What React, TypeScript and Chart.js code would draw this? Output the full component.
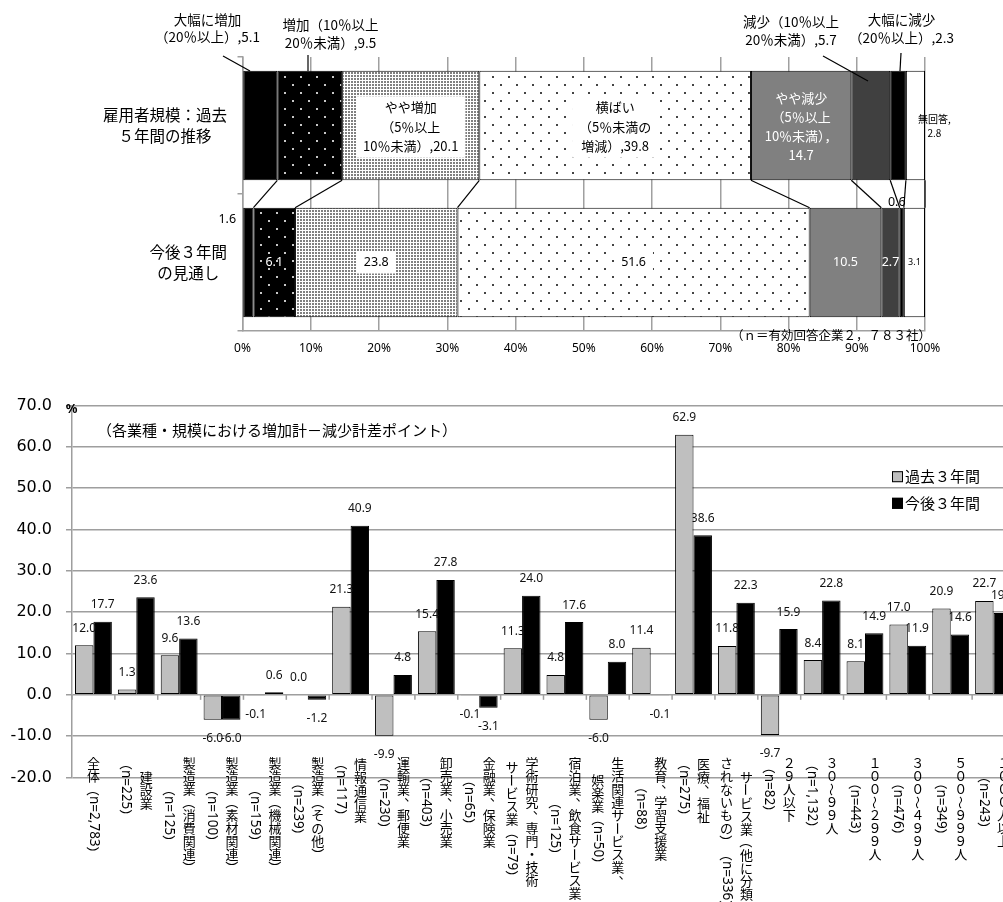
import React, { useEffect, useRef } from 'react';
import { Chart, registerables } from 'chart.js';

Chart.register(...registerables);

const JP = '"Noto Sans CJK JP", "Noto Sans", sans-serif';
const LAT = '"Noto Sans", "DejaVu Sans", sans-serif';
const NUM = '"DejaVu Sans", sans-serif';

// ---------------- upper chart data ----------------
const TOP_CATEGORIES = ['雇用者規模：過去５年間の推移', '今後３年間の見通し'];
const TOP_CATEGORY_LINES = [
  ['雇用者規模：過去', '５年間の推移'],
  ['今後３年間', 'の見通し'],
];
const TOP_SERIES = [
  '大幅に増加（20％以上）',
  '増加（10％以上20％未満）',
  'やや増加（5％以上10％未満）',
  '横ばい（5％未満の増減）',
  'やや減少（5％以上10％未満）',
  '減少（10％以上20％未満）',
  '大幅に減少（20％以上）',
  '無回答',
];
const TOP_PAST = [5.1, 9.5, 20.1, 39.8, 14.7, 5.7, 2.3, 2.8];
const TOP_FUTURE = [1.6, 6.1, 23.8, 51.6, 10.5, 2.7, 0.6, 3.1];
const TOP_PAST_LABELS = [
  ['大幅に増加', '（20％以上）,{v}'],
  ['増加（10％以上', '20％未満）,{v}'],
  ['やや増加', '（5％以上', '10％未満）,{v}'],
  ['横ばい', '（5％未満の', '増減）,{v}'],
  ['やや減少', '（5％以上', '10％未満），', '{v}'],
  ['減少（10％以上', '20％未満）,{v}'],
  ['大幅に減少', '（20％以上）,{v}'],
  ['無回答,', '{v}'],
];
const TOP_NOTE = '（ｎ＝有効回答企業２，７８３社）';

// ---------------- lower chart data ----------------
const BOTTOM_CATEGORIES = [
  ['全体（n=2,783）'],
  ['建設業', '（n=225）'],
  ['製造業（消費関連）', '（n=125）'],
  ['製造業（素材関連）', '（n=100）'],
  ['製造業（機械関連）', '（n=159）'],
  ['製造業（その他）', '（n=239）'],
  ['情報通信業', '（n=117）'],
  ['運輸業、郵便業', '（n=230）'],
  ['卸売業、小売業', '（n=403）'],
  ['金融業、保険業', '（n=65）'],
  ['学術研究、専門・技術', 'サービス業（n=79）'],
  ['宿泊業、飲食サービス業', '（n=125）'],
  ['生活関連サービス業、', '娯楽業（n=50）'],
  ['教育、学習支援業', '（n=88）'],
  ['医療、福祉', '（n=275）'],
  ['サービス業（他に分類', 'されないもの）（n=336）'],
  ['２９人以下', '（n=82）'],
  ['３０～９９人', '（n=1,132）'],
  ['１００～２９９人', '（n=443）'],
  ['３００～４９９人', '（n=476）'],
  ['５００～９９９人', '（n=349）'],
  ['１０００人以上', '（n=243）'],
];
const BOTTOM_SERIES = ['過去３年間', '今後３年間'];
const BOTTOM_PAST = [12.0, 1.3, 9.6, -6.0, -0.1, 0.0, 21.3, -9.9, 15.4, -0.1, 11.3, 4.8, -6.0, 11.4, 62.9, 11.8, -9.7, 8.4, 8.1, 17.0, 20.9, 22.7];
const BOTTOM_FUTURE = [17.7, 23.6, 13.6, -6.0, 0.6, -1.2, 40.9, 4.8, 27.8, -3.1, 24.0, 17.6, 8.0, -0.1, 38.6, 22.3, 15.9, 22.8, 14.9, 11.9, 14.6, 19.8];
const BOTTOM_TITLE = '（各業種・規模における増加計－減少計差ポイント）';
const BOTTOM_UNIT = '%';

// ---------------- helpers ----------------
function makePattern(ctx: any, w: number, h: number, bg: string, fg: string, pts: number[][], s: number) {
  const c = document.createElement('canvas');
  c.width = w;
  c.height = h;
  const g = c.getContext('2d') as CanvasRenderingContext2D;
  g.fillStyle = bg;
  g.fillRect(0, 0, w, h);
  g.fillStyle = fg;
  pts.forEach(([x, y]) => g.fillRect(x, y, s, s));
  return ctx.createPattern(c, 'repeat');
}

function drawBlock(ctx: any, lines: string[], cx: number, cy: number, lh: number, font: string, color: string, box?: { px: number; py: number }) {
  ctx.save();
  ctx.font = font;
  ctx.textAlign = 'center';
  ctx.textBaseline = 'middle';
  const n = lines.length;
  if (box) {
    const w = Math.max(...lines.map((l) => ctx.measureText(l).width)) + box.px * 2;
    const h = n * lh + box.py * 2;
    ctx.fillStyle = '#fff';
    ctx.fillRect(cx - w / 2, cy - h / 2, w, h);
  }
  ctx.fillStyle = color;
  lines.forEach((l, i) => ctx.fillText(l, cx, cy + (i - (n - 1) / 2) * lh));
  ctx.restore();
}

const ROT = new Set(['（', '）', 'ー', '～', '－', '〜']);
const RUN_FONT = `13.5px ${LAT}`;

function vTokens(s: string) {
  const toks: { run: boolean; s: string }[] = [];
  let i = 0;
  while (i < s.length) {
    if (s.charCodeAt(i) < 0x80) {
      let j = i;
      while (j < s.length && s.charCodeAt(j) < 0x80) j++;
      toks.push({ run: true, s: s.slice(i, j) });
      i = j;
    } else {
      toks.push({ run: false, s: s[i] });
      i++;
    }
  }
  return toks;
}

function runWidth(ctx: any, s: string) {
  const f = ctx.font;
  ctx.font = RUN_FONT;
  const w = ctx.measureText(s).width;
  ctx.font = f;
  return w;
}

function vLength(ctx: any, s: string, fs: number) {
  return vTokens(s).reduce((a, t) => a + (t.run ? runWidth(ctx, t.s) : fs), 0);
}

function drawVertical(ctx: any, s: string, cx: number, top: number, fs: number) {
  let y = top;
  for (const t of vTokens(s)) {
    if (t.run) {
      const w = runWidth(ctx, t.s);
      ctx.save();
      ctx.font = RUN_FONT;
      ctx.translate(cx, y);
      ctx.rotate(Math.PI / 2);
      ctx.textAlign = 'left';
      ctx.textBaseline = 'middle';
      ctx.fillText(t.s, 0, 0);
      ctx.restore();
      y += w;
    } else if (ROT.has(t.s)) {
      ctx.save();
      ctx.translate(cx, y + fs / 2);
      ctx.rotate(Math.PI / 2);
      ctx.textAlign = 'center';
      ctx.textBaseline = 'middle';
      ctx.fillText(t.s, 0, 0);
      ctx.restore();
      y += fs;
    } else if (t.s === '、' || t.s === '。') {
      ctx.textAlign = 'center';
      ctx.textBaseline = 'middle';
      ctx.fillText(t.s, cx + fs * 0.55, y + fs / 2 - fs * 0.55);
      y += fs;
    } else {
      ctx.textAlign = 'center';
      ctx.textBaseline = 'middle';
      ctx.fillText(t.s, cx, y + fs / 2);
      y += fs;
    }
  }
}

// ---------------- plugins ----------------
const topPlugin = {
  id: 'topDecor',
  afterDatasetsDraw(chart: any) {
    const ctx = chart.ctx;
    const metas = TOP_SERIES.map((_, k) => chart.getDatasetMeta(k));
    // series lines between the two bars
    ctx.save();
    ctx.strokeStyle = '#000';
    ctx.lineWidth = 1.2;
    metas.forEach((m: any) => {
      const a = m.data[0];
      const b = m.data[1];
      ctx.beginPath();
      ctx.moveTo(a.x, a.y + a.height / 2);
      ctx.lineTo(b.x, b.y - b.height / 2);
      ctx.stroke();
    });
    // leader lines for outside labels
    const leaders = [
      [223, 56, 250, 71],
      [308, 55, 308, 71],
      [823, 56, 868, 81],
      [901, 53, 900, 71],
    ];
    leaders.forEach(([x1, y1, x2, y2]) => {
      ctx.beginPath();
      ctx.moveTo(x1, y1);
      ctx.lineTo(x2, y2);
      ctx.stroke();
    });
    ctx.restore();

    // labels of the past bar
    const outerPos: Record<number, number[]> = { 0: [207.5, 28.5, 17], 1: [330.5, 34, 18], 5: [791, 31, 18], 6: [901.5, 29, 18] };
    metas.forEach((m: any, k: number) => {
      const el = m.data[0];
      const v = TOP_PAST[k].toFixed(1);
      const lines = TOP_PAST_LABELS[k].map((l) => l.replace('{v}', v));
      const cx = (el.base + el.x) / 2;
      const cy = el.y;
      if (outerPos[k]) {
        const [x, y, lh] = outerPos[k];
        drawBlock(ctx, lines, x, y, lh, `13.5px ${JP}`, '#000');
      } else if (k === 2 || k === 3) {
        drawBlock(ctx, lines, cx, cy + 1.5, 19.5, `13px ${JP}`, '#000', { px: 7, py: 1.5 });
      } else if (k === 4) {
        drawBlock(ctx, lines, cx, cy + 1, 19, `13px ${JP}`, '#fff');
      } else {
        drawBlock(ctx, lines, cx + 19, cy + 1, 14, `10px ${JP}`, '#000');
      }
    });

    // labels of the future bar
    metas.forEach((m: any, k: number) => {
      const el = m.data[1];
      const v = TOP_FUTURE[k].toFixed(1);
      const cx = (el.base + el.x) / 2;
      const cy = el.y;
      const topY = el.y - el.height / 2;
      if (k === 0) {
        drawBlock(ctx, [v], el.base - 16, topY + 12, 14, `12.5px ${LAT}`, '#000');
      } else if (k === 6) {
        drawBlock(ctx, [v], cx - 5, topY - 5, 14, `12.5px ${LAT}`, '#000');
      } else if (k === 2 || k === 3) {
        drawBlock(ctx, [v], cx, cy, 14, `12.5px ${LAT}`, '#000', { px: 7, py: 4 });
      } else if (k === 7) {
        drawBlock(ctx, [v], cx, cy, 12, `9px ${LAT}`, '#000');
      } else {
        drawBlock(ctx, [v], cx, cy, 14, `12.5px ${LAT}`, '#fff');
      }
    });

    // category labels on the left
    ctx.save();
    ctx.font = `15.5px ${JP}`;
    const ys = chart.scales.y;
    TOP_CATEGORY_LINES.forEach((lines, i) => {
      const w = Math.max(...lines.map((l) => ctx.measureText(l).width));
      const right = 227;
      drawBlock(ctx, lines, right - w / 2, ys.getPixelForValue(i), 21, `15.5px ${JP}`, '#000');
    });
    ctx.restore();

    // note
    ctx.save();
    ctx.font = `12.5px ${JP}`;
    ctx.fillStyle = '#000';
    ctx.textAlign = 'right';
    ctx.textBaseline = 'middle';
    ctx.fillText(TOP_NOTE, chart.chartArea.right + 6, chart.chartArea.bottom + 4);
    ctx.restore();
  },
};

const bottomPlugin = {
  id: 'bottomDecor',
  afterDatasetDraw(chart: any, args: any) {
    const ctx = chart.ctx;
    const values = args.index === 0 ? BOTTOM_PAST : BOTTOM_FUTURE;
    ctx.save();
    ctx.font = `12px ${LAT}`;
    ctx.fillStyle = '#111';
    ctx.textAlign = 'center';
    ctx.textBaseline = 'middle';
    args.meta.data.forEach((el: any, i: number) => {
      const v = values[i];
      const y = v >= 0 ? el.y - 17 : el.y + 19;
      ctx.fillText(v.toFixed(1), el.x, y);
    });
    ctx.restore();
  },
  afterDraw(chart: any) {
    const ctx = chart.ctx;
    const xs = chart.scales.x;
    const ys = chart.scales.y;
    const y0 = ys.getPixelForValue(0);
    const c0 = xs.getPixelForValue(0);
    const step = xs.getPixelForValue(1) - c0;
    // category tick marks on the zero line
    ctx.save();
    ctx.strokeStyle = '#9e9e9e';
    ctx.lineWidth = 1.5;
    for (let i = 0; i <= BOTTOM_CATEGORIES.length; i++) {
      const x = c0 - step / 2 + i * step;
      ctx.beginPath();
      ctx.moveTo(x, y0);
      ctx.lineTo(x, y0 + 5);
      ctx.stroke();
    }
    ctx.restore();

    // vertical category labels
    const fs = 13;
    const labelTop = ys.getPixelForValue(-20) - 20.5;
    ctx.save();
    ctx.font = `${fs}px ${JP}`;
    ctx.fillStyle = '#000';
    BOTTOM_CATEGORIES.forEach((cols, i) => {
      const cx = xs.getPixelForValue(i);
      const lens = cols.map((c) => vLength(ctx, c, fs));
      const maxLen = Math.max(...lens);
      cols.forEach((c, j) => {
        const x = cx + ((cols.length - 1) / 2) * 20 - j * 20;
        drawVertical(ctx, c, x, labelTop + (maxLen - lens[j]) / 2, fs);
      });
    });
    ctx.restore();

    // title, unit
    ctx.save();
    ctx.fillStyle = '#000';
    ctx.textBaseline = 'middle';
    ctx.font = `15px ${JP}`;
    ctx.textAlign = 'left';
    ctx.fillText(BOTTOM_TITLE, 97, 60);
    ctx.font = `bold 13px ${LAT}`;
    ctx.textAlign = 'center';
    ctx.fillText(BOTTOM_UNIT, 71.5, 39);
    ctx.restore();

    // legend
    const legendColors = ['#bfbfbf', '#000'];
    const legendY = [106.7, 133.3];
    ctx.save();
    BOTTOM_SERIES.forEach((s, i) => {
      const y = legendY[i];
      ctx.fillStyle = legendColors[i];
      ctx.fillRect(892, y - 5.5, 11, 11);
      ctx.strokeStyle = '#000';
      ctx.lineWidth = 1;
      ctx.strokeRect(892.5, y - 5, 10, 10);
      ctx.fillStyle = '#000';
      ctx.font = `15px ${JP}`;
      ctx.textAlign = 'left';
      ctx.textBaseline = 'middle';
      ctx.fillText(s, 905, y);
    });
    ctx.restore();
  },
};

export default function App() {
  const topRef = useRef<HTMLCanvasElement>(null);
  const botRef = useRef<HTMLCanvasElement>(null);

  useEffect(() => {
    const topCanvas = topRef.current as HTMLCanvasElement;
    const botCanvas = botRef.current as HTMLCanvasElement;
    const tctx = topCanvas.getContext('2d');
    const fills = [
      '#000000',
      makePattern(tctx, 16, 16, '#000000', '#c8c8c8', [[4, 4], [12, 12]], 2),
      makePattern(tctx, 3, 3, '#ffffff', '#808080', [[0, 0]], 2),
      makePattern(tctx, 16, 16, '#ffffff', '#444444', [[4, 4], [12, 12]], 2),
      '#808080',
      '#404040',
      '#000000',
      '#ffffff',
    ];
    const grid = '#a0a0a0';

    const top = new Chart(topCanvas, {
      type: 'bar',
      data: {
        labels: TOP_CATEGORIES,
        datasets: TOP_SERIES.map((s, k) => ({
          label: s,
          data: [TOP_PAST[k], TOP_FUTURE[k]],
          backgroundColor: fills[k] as any,
          borderColor: '#000',
          borderWidth: 1,
          borderSkipped: false,
          categoryPercentage: 0.8,
          barPercentage: 1,
        })),
      },
      options: {
        indexAxis: 'y',
        responsive: false,
        animation: false,
        devicePixelRatio: 1,
        layout: { padding: { top: 57, right: 78, left: 0, bottom: 0 } },
        plugins: { legend: { display: false }, tooltip: { enabled: false } },
        scales: {
          x: {
            stacked: true,
            min: 0,
            max: 100,
            ticks: {
              stepSize: 10,
              autoSkip: false,
              maxRotation: 0,
              callback: (v: any) => v + '%',
              font: { family: LAT, size: 12 },
              color: '#000',
              padding: 10,
            },
            grid: { color: grid, lineWidth: 1.5, drawTicks: false },
            border: { color: grid, width: 1.5 },
            afterFit: (s: any) => {
              s.height = 39;
            },
          },
          y: {
            stacked: true,
            ticks: { display: false },
            grid: { drawOnChartArea: false, color: grid, lineWidth: 1.5, tickLength: 5 },
            border: { color: grid, width: 1.5 },
            afterFit: (s: any) => {
              s.width = 242.5;
            },
          },
        },
      } as any,
      plugins: [topPlugin],
    });

    const bot = new Chart(botCanvas, {
      type: 'bar',
      data: {
        labels: BOTTOM_CATEGORIES.map((c) => c.join('')),
        datasets: [
          {
            label: BOTTOM_SERIES[0],
            data: BOTTOM_PAST,
            backgroundColor: '#bfbfbf',
            borderColor: '#000',
            borderWidth: 1,
            borderSkipped: false,
            categoryPercentage: 0.86,
            barPercentage: 1,
          },
          {
            label: BOTTOM_SERIES[1],
            data: BOTTOM_FUTURE,
            backgroundColor: '#000',
            borderColor: '#000',
            borderWidth: 1,
            borderSkipped: false,
            categoryPercentage: 0.86,
            barPercentage: 1,
          },
        ],
      },
      options: {
        responsive: false,
        animation: false,
        devicePixelRatio: 1,
        layout: { padding: { top: 35.5, bottom: 124.5, left: 0, right: 5 } },
        plugins: { legend: { display: false }, tooltip: { enabled: false } },
        scales: {
          x: { display: false },
          y: {
            min: -20,
            max: 70,
            ticks: {
              stepSize: 10,
              callback: (v: any) => Number(v).toFixed(1),
              font: { family: NUM, size: 16 },
              color: '#000',
              padding: 14,
            },
            grid: { color: '#9e9e9e', lineWidth: 1.5, tickLength: 6 },
            border: { color: '#9e9e9e', width: 1.5 },
            afterFit: (s: any) => {
              s.width = 72;
            },
          },
        },
      } as any,
      plugins: [bottomPlugin],
    });

    return () => {
      top.destroy();
      bot.destroy();
    };
  }, []);

  return (
    <div style={{ position: 'fixed', left: 0, top: 0, width: 1003, height: 902, overflow: 'hidden', background: '#fff' }}>
      <canvas ref={topRef} width={1003} height={370} style={{ position: 'absolute', left: 0, top: 0, width: 1003, height: 370 }} />
      <canvas ref={botRef} width={1020} height={532} style={{ position: 'absolute', left: 0, top: 370, width: 1020, height: 532 }} />
    </div>
  );
}
